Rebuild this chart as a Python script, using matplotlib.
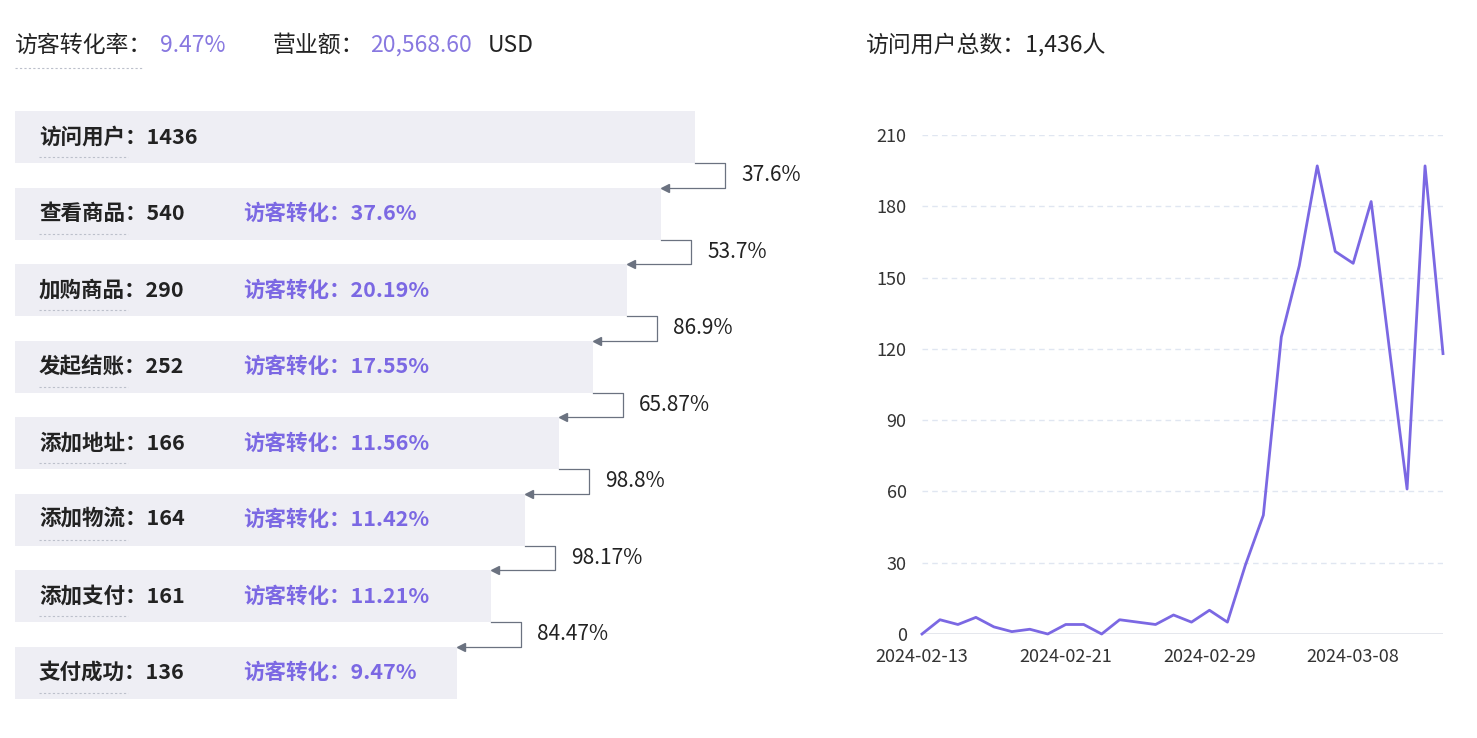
import numpy as np
import pandas as pd
import matplotlib
matplotlib.use('Agg')
import matplotlib.pyplot as plt

plt.rcParams['font.family'] = ['Noto Sans CJK SC', 'DejaVu Sans']

# funnel data
stages = ['访问用户', '查看商品', '加购商品', '发起结账', '添加地址', '添加物流', '添加支付', '支付成功']
counts = [1436, 540, 290, 252, 166, 164, 161, 136]
visit_rate = ['', '37.6%', '20.19%', '17.55%', '11.56%', '11.42%', '11.21%', '9.47%']
step_rate = ['37.6%', '53.7%', '86.9%', '65.87%', '98.8%', '98.17%', '84.47%']

# daily visitors
dates = pd.date_range('2024-02-13', '2024-03-13', freq='D')
visitors = [0, 6, 4, 7, 3, 1, 2, 0, 4, 4, 0, 6, 5, 4, 8, 5, 10, 5, 29, 50,
            125, 155, 197, 161, 156, 182, 121, 61, 197, 118]
y_ticks = [0, 30, 60, 90, 120, 150, 180, 210]

W, H = 1477, 738
PURPLE = '#7B68E3'
PURPLE_LIGHT = '#8878E0'
BAR_BG = '#EEEEF4'
GRAY = '#6B7280'
TXT = '#222222'

fig = plt.figure(figsize=(W / 100, H / 100), dpi=100)
fig.patch.set_facecolor('white')

ax = fig.add_axes([0, 0, 1, 1])
ax.set_xlim(0, W)
ax.set_ylim(H, 0)
ax.axis('off')

# header
ax.text(15, 45, '访客转化率：', fontsize=16.5, color=TXT, va='center')
ax.text(160, 45, '9.47%', fontsize=16.5, color=PURPLE_LIGHT, va='center')
ax.plot([15, 143], [68, 68], color='#BCC0CB', lw=0.8, ls=(0, (2, 2)))
ax.text(273, 45, '营业额：', fontsize=16.5, color=TXT, va='center')
ax.text(370, 45, '20,568.60', fontsize=16.5, color=PURPLE_LIGHT, va='center')
ax.text(488, 45, 'USD', fontsize=16.5, color=TXT, va='center')
ax.text(866, 45, '访问用户总数：1,436人', fontsize=16.5, color=TXT, va='center')

# funnel bars
bar_top0 = 111
bar_h = 52
gap = 76.5
x0 = 15
full_w = 680
step_w = 34
tops = [bar_top0 + i * gap for i in range(len(stages))]
ends = [x0 + full_w - i * step_w for i in range(len(stages))]

ax.barh([t + bar_h / 2 for t in tops], [e - x0 for e in ends], height=bar_h,
        left=x0, color=BAR_BG, edgecolor='none')

for i, (name, n) in enumerate(zip(stages, counts)):
    yc = tops[i] + bar_h / 2
    ax.text(39, yc, f'{name}：{n}', fontsize=15.5, fontweight='bold',
            color=TXT, va='center')
    ax.plot([39, 128], [tops[i] + bar_h - 6] * 2, color='#BCC0CB', lw=0.8,
            ls=(0, (2, 2)))
    if visit_rate[i]:
        ax.text(243, yc, f'访客转化：{visit_rate[i]}', fontsize=15.5,
                fontweight='bold', color=PURPLE, va='center')

# connectors between stages
for i, r in enumerate(step_rate):
    e1 = ends[i]
    e2 = ends[i + 1]
    yb = tops[i] + bar_h
    yt = tops[i + 1]
    xr = e1 + 30
    ax.plot([e1, xr, xr, e2 + 6], [yb, yb, yt, yt], color=GRAY, lw=0.9)
    ax.plot(e2 + 4, yt, marker='<', ms=6, color=GRAY, mec=GRAY)
    ax.text(xr + 16, (yb + yt) / 2, r, fontsize=15, color=TXT, va='center')

# line chart
lx0, lx1, ly0, ly1 = 922, 1443, 634, 135
lax = fig.add_axes([lx0 / W, (H - ly0) / H, (lx1 - lx0) / W, (ly0 - ly1) / H])
x = np.arange(len(visitors))
lax.plot(x, visitors, color=PURPLE, lw=2.0, clip_on=False)
lax.set_xlim(0, len(visitors) - 1)
lax.set_ylim(0, 210)
lax.set_yticks(y_ticks)
lax.set_yticklabels([str(v) for v in y_ticks])
for v in y_ticks[1:]:
    lax.axhline(v, color='#E0E6F1', lw=1, ls=(0, (4, 3)), zorder=0)
lax.axhline(0, color='#E0E3EA', lw=1.2, zorder=0)
xt = list(range(0, len(visitors), 8))
lax.set_xticks(xt)
lax.set_xticklabels([dates[k].strftime('%Y-%m-%d') for k in xt])
lax.tick_params(length=0, labelsize=13, colors='#333333', pad=10)
lax.tick_params(axis='y', pad=11)
for s in lax.spines.values():
    s.set_visible(False)
lax.patch.set_alpha(0)

fig.savefig('out.png', dpi=100, facecolor='white')
